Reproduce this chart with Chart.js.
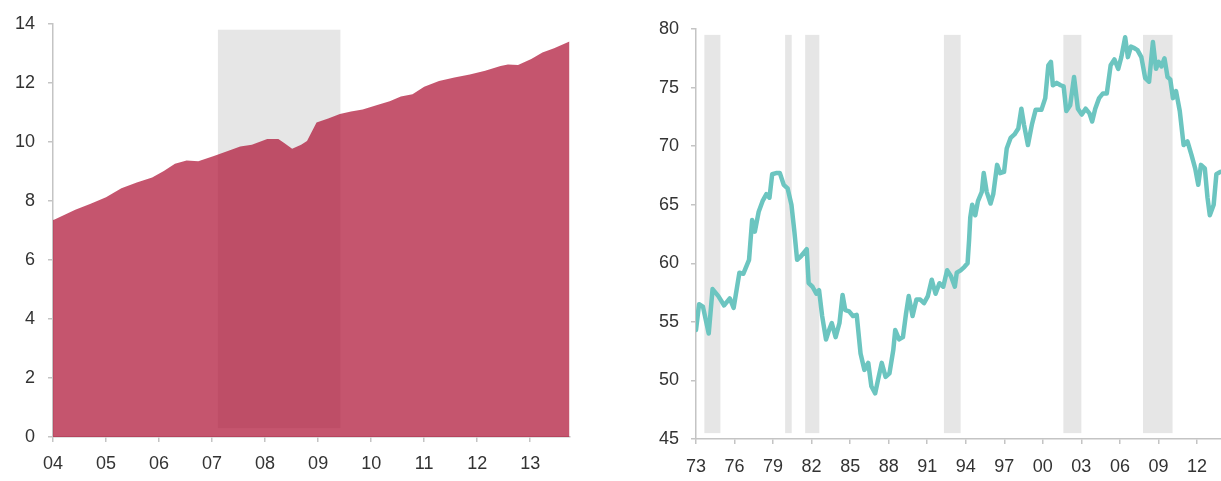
<!DOCTYPE html>
<html><head><meta charset="utf-8">
<script src="https://cdn.jsdelivr.net/npm/chart.js@4"></script>
<style>
html,body{margin:0;padding:0;background:#fff;}
#wrap{position:relative;width:1221px;height:481px;overflow:hidden;background:#fff}
#c1{position:absolute;left:0;top:0}
#c2{position:absolute;left:600px;top:0}
</style></head><body>
<div id="wrap"><canvas id="c1" width="600" height="481"></canvas><canvas id="c2" width="621" height="481"></canvas></div>
<script>
// ---- Left chart data ----
const leftYears = [2004.0,2004.03,2004.42,2004.71,2005.0,2005.29,2005.58,2005.87,2006.09,2006.30,2006.52,2006.74,2007.02,2007.31,2007.53,2007.75,2008.04,2008.25,2008.36,2008.51,2008.68,2008.79,2008.97,2009.19,2009.41,2009.62,2009.84,2010.13,2010.35,2010.56,2010.78,2011.0,2011.28,2011.57,2011.86,2012.15,2012.44,2012.58,2012.77,2013.02,2013.23,2013.45,2013.74];
const leftValues = [7.35,7.37,7.70,7.90,8.12,8.43,8.62,8.79,9.01,9.26,9.37,9.34,9.51,9.70,9.84,9.90,10.1,10.1,9.96,9.77,9.90,10.03,10.66,10.79,10.94,11.03,11.10,11.26,11.38,11.54,11.61,11.87,12.06,12.18,12.28,12.41,12.57,12.62,12.60,12.81,13.03,13.17,13.4];
const leftXTicks = [2004,2005,2006,2007,2008,2009,2010,2011,2012,2013];
const leftYTicks = [0,2,4,6,8,10,12,14];
const leftShadeStart = [2007.11];
const leftShadeEnd = [2009.42];

// ---- Right chart data ----
const rightYears = [1973.00,1973.24,1973.54,1973.99,1974.29,1974.74,1975.19,1975.63,1975.93,1976.38,1976.68,1977.13,1977.37,1977.58,1977.88,1978.18,1978.48,1978.72,1978.93,1979.23,1979.53,1979.83,1980.13,1980.43,1980.66,1980.87,1981.17,1981.62,1981.77,1982.07,1982.37,1982.58,1982.82,1983.12,1983.36,1983.57,1983.87,1984.17,1984.41,1984.62,1984.92,1985.22,1985.51,1985.81,1986.11,1986.41,1986.65,1986.95,1987.16,1987.46,1987.76,1988.06,1988.36,1988.51,1988.81,1989.11,1989.35,1989.56,1989.86,1990.16,1990.46,1990.75,1991.05,1991.35,1991.65,1991.95,1992.25,1992.55,1992.85,1993.15,1993.30,1993.60,1993.90,1994.14,1994.26,1994.35,1994.50,1994.74,1994.95,1995.25,1995.40,1995.63,1995.93,1996.14,1996.44,1996.68,1996.98,1997.19,1997.49,1997.79,1998.09,1998.33,1998.54,1998.84,1999.14,1999.44,1999.89,2000.19,2000.43,2000.63,2000.78,2001.08,2001.38,2001.62,2001.83,2002.13,2002.43,2002.73,2003.03,2003.33,2003.63,2003.84,2004.08,2004.38,2004.68,2004.98,2005.28,2005.57,2005.87,2006.11,2006.41,2006.62,2006.86,2007.07,2007.37,2007.67,2007.97,2008.27,2008.57,2008.81,2009.02,2009.23,2009.47,2009.71,2009.92,2010.13,2010.37,2010.66,2010.96,2011.26,2011.56,2011.86,2012.10,2012.31,2012.61,2012.82,2013.00,2013.30,2013.51,2013.81];
const rightValues = [54.3,56.5,56.3,54.0,57.8,57.2,56.4,57.0,56.2,59.2,59.1,60.3,63.7,62.7,64.4,65.3,65.9,65.6,67.6,67.7,67.7,66.7,66.4,65.0,62.7,60.3,60.6,61.2,58.3,58.0,57.4,57.7,55.5,53.5,54.3,54.9,53.7,54.9,57.3,56.0,55.9,55.5,55.6,52.3,50.9,51.5,49.5,48.9,50.0,51.5,50.3,50.6,52.6,54.3,53.5,53.7,55.7,57.2,55.5,56.9,56.9,56.6,57.2,58.6,57.4,58.3,58.0,59.4,58.9,58.0,59.2,59.4,59.7,60.0,62.0,63.9,65.0,64.1,65.3,66.1,67.7,66.1,65.1,65.9,68.4,67.7,67.8,69.8,70.7,71.0,71.5,73.2,71.8,70.1,71.8,73.1,73.1,74.1,76.9,77.2,75.2,75.4,75.2,75.1,73.0,73.5,75.9,73.2,72.7,73.2,72.8,72.1,73.2,74.1,74.5,74.5,76.9,77.4,76.6,77.6,79.3,77.6,78.5,78.4,78.2,77.6,75.8,75.5,78.9,76.6,77.2,76.8,77.5,75.9,75.7,74.1,74.7,73.0,70.1,70.4,69.3,68.1,66.7,68.4,68.1,65.6,64.1,65.0,67.6,67.8];
const rightXTicks = [1973,1976,1979,1982,1985,1988,1991,1994,1997,2000,2003,2006,2009,2012];
const rightYTicks = [45,50,55,60,65,70,75,80];
const rightShadeStart = [1973.65,1979.94,1981.5,1992.3,2001.6,2007.8];
const rightShadeEnd = [1974.9,1980.45,1982.6,1993.6,2003.0,2010.1];

const FONT = '"Liberation Sans", Arial, sans-serif';
const TXT = '#333333';
const shadePlugin = {
  id:'shade',
  beforeDatasetsDraw(chart, args, opts){
    const {ctx, scales:{x,y}} = chart;
    ctx.save(); ctx.fillStyle = opts.color;
    opts.starts.forEach((s,i)=>{
      const x0=x.getPixelForValue(s), x1=x.getPixelForValue(opts.ends[i]);
      const y0=y.getPixelForValue(opts.top), y1=y.getPixelForValue(opts.bottom);
      ctx.fillRect(x0,y0,x1-x0,y1-y0);
    });
    ctx.restore();
  }
};
function axis(extra){
  return Object.assign({
    grid:{display:true, drawOnChartArea:false, drawTicks:true, tickLength:5, color:'#c4c4c4', lineWidth:1.5},
    border:{display:true, color:'#c4c4c4', width:1.5}
  }, extra);
}
const yy = v => String(v % 100).padStart(2,'0');

new Chart(document.getElementById('c1'), {
  type:'line',
  data:{datasets:[{
    data: leftYears.map((x,i)=>({x, y:leftValues[i]})),
    borderWidth:0, pointRadius:0, fill:'origin',
    backgroundColor:'rgba(174,20,54,0.72)', borderColor:'rgba(0,0,0,0)', tension:0
  }]},
  options:{
    responsive:false, animation:false, devicePixelRatio:1,
    layout:{padding:{left:0,right:30,top:18,bottom:0}},
    plugins:{legend:{display:false}, tooltip:{enabled:false},
      shade:{color:'#e6e6e6', starts:leftShadeStart, ends:leftShadeEnd, top:13.8, bottom:0.3}},
    scales:{
      x: axis({type:'linear', min:2004, max:2013.75,
        afterBuildTicks:s=>{s.ticks = leftXTicks.map(v=>({value:v}));},
        afterFit:a=>{a.height=44;},
        ticks:{color:TXT, font:{family:FONT, size:18}, padding:11, maxRotation:0, autoSkip:false, callback:v=>yy(v)}}),
      y: axis({min:0, max:14,
        afterBuildTicks:s=>{s.ticks = leftYTicks.map(v=>({value:v}));},
        afterFit:a=>{a.width=53;},
        ticks:{color:TXT, font:{family:FONT, size:18}, padding:13, autoSkip:false}})
    }
  },
  plugins:[shadePlugin]
});

new Chart(document.getElementById('c2'), {
  type:'line',
  data:{datasets:[{
    data: rightYears.map((x,i)=>({x, y:rightValues[i]})),
    borderWidth:4.5, pointRadius:0, fill:false, borderColor:'#6cc5c0',
    borderJoinStyle:'round', borderCapStyle:'round', tension:0
  }]},
  options:{
    responsive:false, animation:false, devicePixelRatio:1,
    layout:{padding:{left:0,right:0,top:29,bottom:0}},
    plugins:{legend:{display:false}, tooltip:{enabled:false},
      shade:{color:'#e6e6e6', starts:rightShadeStart, ends:rightShadeEnd, top:79.5, bottom:45.5}},
    scales:{
      x: axis({type:'linear', min:1973, max:2013.87,
        afterBuildTicks:s=>{s.ticks = rightXTicks.map(v=>({value:v}));},
        afterFit:a=>{a.height=42;},
        ticks:{color:TXT, font:{family:FONT, size:18}, padding:12, maxRotation:0, autoSkip:false, callback:v=>yy(v)}}),
      y: axis({min:45, max:80,
        afterBuildTicks:s=>{s.ticks = rightYTicks.map(v=>({value:v}));},
        afterFit:a=>{a.width=96;},
        ticks:{color:TXT, font:{family:FONT, size:18}, padding:12, autoSkip:false}})
    }
  },
  plugins:[shadePlugin]
});
</script>
</body></html>
